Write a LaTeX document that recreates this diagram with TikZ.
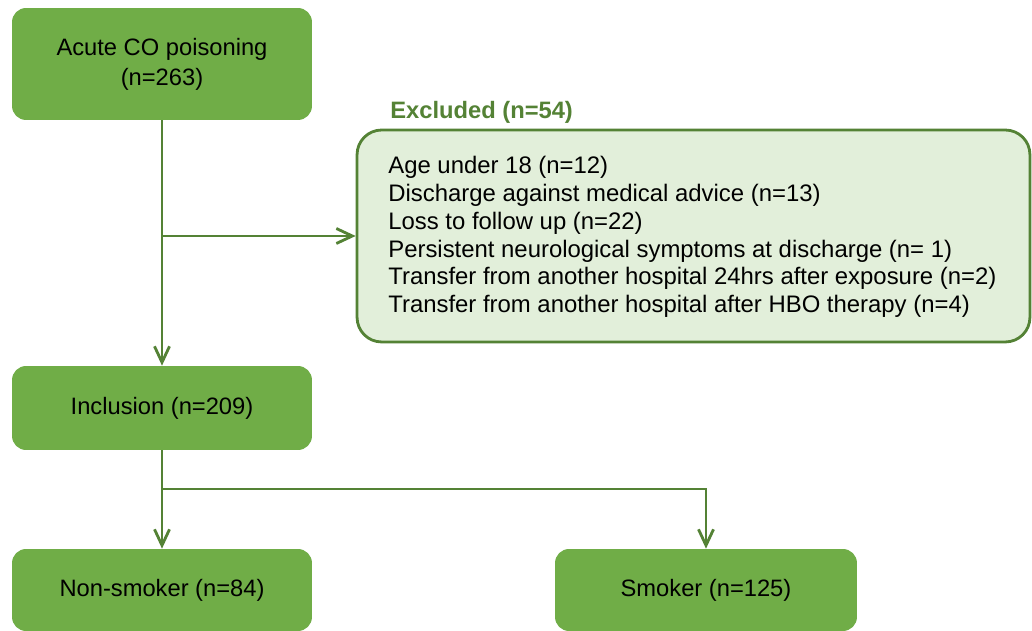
\documentclass[tikz,border=0pt]{standalone}
\usepackage{fontspec}
\setmainfont{Liberation Sans}
\usetikzlibrary{arrows.meta}
\definecolor{boxgreen}{HTML}{70AD47}
\definecolor{palegreen}{HTML}{E2EFDA}
\definecolor{linegreen}{HTML}{548235}
\tikzset{>={Straight Barb[length=3.2mm,width=3mm]}}
\tikzset{
  greenbox/.style = {rectangle, rounded corners = 8pt, fill = boxgreen, minimum width = 6cm, align = center, font = \fontsize{13.5}{17}\selectfont},
  flow/.style = {line width = 1.6pt, linegreen}
}
\begin{document}
\begin{tikzpicture}[x = 0.02cm, y = -0.02cm]
\useasboundingbox[fill = white] (0,0) rectangle (1032,631);
\node[greenbox, minimum height = 2.24cm] (acute) at (162,64) {Acute CO poisoning\\(n=263)};
\node[greenbox, minimum height = 1.68cm] (inclusion) at (162,408) {Inclusion (n=209)};
\node[greenbox, minimum height = 1.64cm] (nonsmoker) at (162,590) {Non-smoker (n=84)};
\node[greenbox, minimum height = 1.64cm, minimum width = 6.04cm] (smoker) at (706,590) {Smoker (n=125)};
\node[draw = linegreen, line width = 1.6pt, fill = palegreen, rounded corners = 14pt, minimum width = 13.46cm, minimum height = 4.24cm] (excluded) at (693.5,236) {};
\node[anchor = west, align = left, inner sep = 0pt, font = \fontsize{13.6}{15.8}\selectfont] (reasons) at (388,237) {Age under 18 (n=12)\\Discharge against medical advice (n=13)\\Loss to follow up (n=22)\\Persistent neurological symptoms at discharge (n= 1)\\Transfer from another hospital 24hrs after exposure (n=2)\\Transfer from another hospital after HBO therapy (n=4)};
\node[anchor = base west, inner sep = 0pt, text = linegreen, font = \fontsize{13.5}{16}\selectfont\bfseries] (title) at (390,119) {Excluded (n=54)};
\coordinate (split) at (162,489);
\draw[flow, ->] (acute) -- (inclusion);
\draw[flow, ->] (acute.south |- excluded.west) -- (excluded.west);
\draw[flow, ->] (inclusion) -- (nonsmoker);
\draw[flow, ->] (split) -| (smoker.north);
\end{tikzpicture}
\end{document}
